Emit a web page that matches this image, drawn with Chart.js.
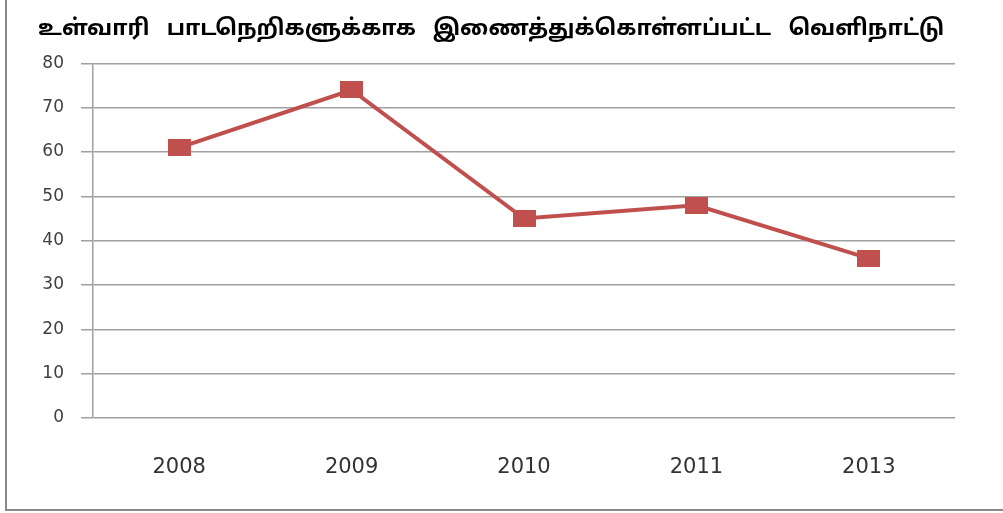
<!DOCTYPE html>
<html>
<head>
<meta charset="utf-8">
<script src="https://cdn.jsdelivr.net/npm/chart.js@4/dist/chart.umd.min.js"></script>
<style>
  html, body { margin: 0; padding: 0; background: #fff; }
  #frame {
    position: absolute; left: 5px; top: 0; width: 998px; height: 509px;
    border-left: 2px solid #8a8a8a; border-bottom: 2px solid #8a8a8a;
  }
  #wrap { position: absolute; left: 0; top: 0; width: 1003px; height: 513px; }
</style>
</head>
<body>
<div id="frame"></div>
<div id="wrap"><canvas id="lineChart"></canvas></div>
<script>
// chart data
const titleText = "உள்வாரி   பாடநெறிகளுக்காக   இணைத்துக்கொள்ளப்பட்ட   வெளிநாட்டு";
const years = ["2008", "2009", "2010", "2011", "2013"];
const students = [61, 74, 45, 48, 36];
const yTicks = [0, 10, 20, 30, 40, 50, 60, 70, 80];

// slightly wide square marker, like the original
const marker = document.createElement("canvas");
marker.width = 23;
marker.height = 17;
const mctx = marker.getContext("2d");
mctx.fillStyle = "#c0504d";
mctx.fillRect(0, 0, 23, 17);

const ctx = document.getElementById("lineChart").getContext("2d");

new Chart(ctx, {
  type: "line",
  data: {
    labels: years,
    datasets: [
      {
        data: students,
        borderColor: "#c0504d",
        borderWidth: 4,
        pointStyle: marker,
        tension: 0,
      },
    ],
  },
  options: {
    responsive: true,
    maintainAspectRatio: false,
    animation: false,
    layout: { padding: { left: 38, right: 48, top: 0, bottom: 0 } },
    plugins: {
      legend: { display: false },
      tooltip: { enabled: false },
      title: {
        display: true,
        text: titleText,
        align: "start",
        color: "#000",
        font: { family: "Noto Sans Tamil, Noto Sans, sans-serif", size: 22, weight: "bold", lineHeight: 1.2 },
        padding: { top: 17, bottom: 20 },
      },
    },
    scales: {
      x: {
        offset: true,
        grid: { display: false, drawTicks: false },
        border: { display: false },
        ticks: {
          padding: 37,
          color: "#333",
          font: { family: "DejaVu Sans", size: 21 },
        },
        afterFit: (scale) => { scale.height = 95; },
      },
      y: {
        min: 0,
        max: 80,
        afterBuildTicks: (scale) => { scale.ticks = yTicks.map((v) => ({ value: v })); },
        grid: { color: "#a0a0a0", lineWidth: 1.5, tickLength: 12 },
        border: { color: "#a0a0a0", width: 1.5 },
        ticks: {
          padding: 17,
          color: "#404040",
          font: { family: "DejaVu Sans", size: 17 },
        },
        afterFit: (scale) => { scale.width = 55; },
      },
    },
  },
});
</script>
</body>
</html>
